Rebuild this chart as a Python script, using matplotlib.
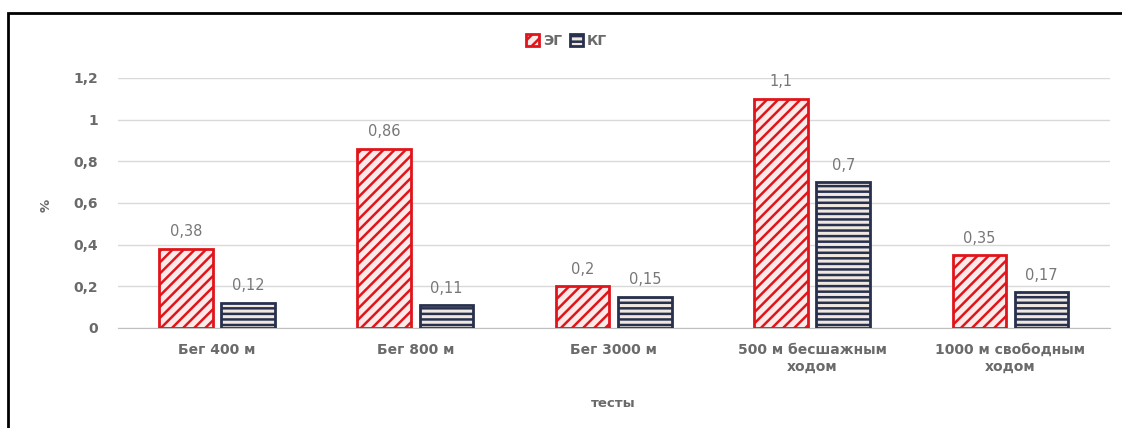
import numpy as np
import matplotlib.pyplot as plt
from matplotlib.patches import Rectangle

categories = ['Бег 400 м', 'Бег 800 м', 'Бег 3000 м', '500 м бесшажным\nходом', '1000 м свободным\nходом']
eg = [0.38, 0.86, 0.2, 1.1, 0.35]
kg = [0.12, 0.11, 0.15, 0.7, 0.17]
yticks = [0, 0.2, 0.4, 0.6, 0.8, 1, 1.2]

plt.rcParams['font.family'] = ['DejaVu Sans']
plt.rcParams['hatch.linewidth'] = 1.8
txt = '#6a6a6a'
fs = 10

fig = plt.figure(figsize=(11.22, 4.28), dpi=100)
ax = fig.add_axes([0.105, 0.234, 0.884, 0.584])

x = np.arange(len(categories))
w = 0.27
off = 0.157
b1 = ax.bar(x - off, eg, w, facecolor='#fbeaea', edgecolor='#e0151b', hatch='///', linewidth=2, label='ЭГ', zorder=3)
b2 = ax.bar(x + off, kg, w, facecolor='#efe7e0', edgecolor='#27304d', hatch='---', linewidth=2, label='КГ', zorder=3)

def fmt(v):
    return ('%g' % v).replace('.', ',')

for bars, vals in ((b1, eg), (b2, kg)):
    for r, v in zip(bars, vals):
        ax.text(r.get_x() + r.get_width() / 2, v + 0.045, fmt(v), ha='center', va='bottom', fontsize=10.5, color='#777777')

ax.set_xlim(-0.5, len(categories) - 0.5)
ax.set_ylim(0, 1.2)
ax.set_yticks(yticks)
ax.set_yticklabels([fmt(t) for t in yticks], fontsize=fs, color=txt, fontweight='bold')
ax.set_xticks(x)
ax.set_xticklabels(categories, fontsize=fs, color=txt, fontweight='bold')
ax.tick_params(axis='y', length=0, pad=14)
ax.tick_params(axis='x', length=0, pad=11)
ax.grid(axis='y', color='#d9d9d9', linewidth=1, zorder=0)
for s in ['top', 'right', 'left']:
    ax.spines[s].set_visible(False)
ax.spines['bottom'].set_color('#bfbfbf')
ax.set_xlabel('тесты', fontsize=9.5, color=txt, fontweight='bold')
ax.xaxis.set_label_coords(0.5, -0.275)
ax.set_ylabel('%', fontsize=9.5, color=txt, fontweight='bold')
ax.yaxis.set_label_coords(-0.066, 0.49)

fig.legend(handles=[b1, b2], loc='center', bbox_to_anchor=(0.505, 0.905), ncol=2, frameon=False,
           prop={'size': fs, 'weight': 'bold'}, handlelength=0.9, handleheight=0.9, columnspacing=0.6,
           handletextpad=0.3, labelcolor=txt)

fig.patches.append(Rectangle((0.007, -0.05), 1.1, 1.02, transform=fig.transFigure,
                             fill=False, edgecolor='black', linewidth=2))

fig.savefig('out.png', dpi=100)
